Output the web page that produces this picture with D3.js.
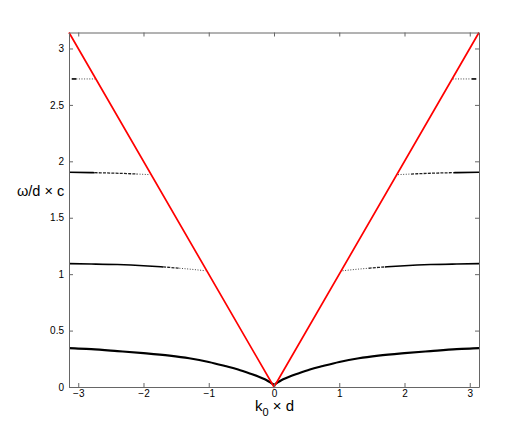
<!DOCTYPE html>
<html>
<head>
<meta charset="utf-8">
<script src="https://cdn.jsdelivr.net/npm/d3@7"></script>
<style>
body{margin:0;background:#fff;}
.axis text{font-family:"Liberation Sans",Arial,sans-serif;font-size:10px;fill:#000;}
.axis path,.axis line{stroke:#666;}
</style>
</head>
<body>
<svg id="chart"></svg>
<script>
var w=530;
var h=436;
var margin={left:69,right:51,top:32.5,bottom:49};
var PI=Math.PI;

// light line (red)
var lightK=[-PI,0,PI];
var lightW=[PI,0,PI];

// bands, positive-k half (mirrored for negative k)
var band1K=[0,0.07,0.14,0.25,0.37,0.55,0.75,1,1.3,1.6,2,2.4,2.8,3.05,PI];
var band1W=[0.02,0.045,0.068,0.095,0.12,0.155,0.186,0.222,0.255,0.278,0.3,0.318,0.335,0.343,0.345];
var band2K=[1.05,1.3,1.6,2,2.4,2.8,PI];
var band2W=[1.03,1.045,1.06,1.075,1.085,1.09,1.093];
var band3K=[1.9,2.2,2.5,2.8,PI];
var band3W=[1.882,1.89,1.896,1.9,1.903];
var band4K=[2.74,2.9,3.03,3.1];
var band4W=[2.73,2.73,2.73,2.73];
// where each band turns sparse: solid above the first k, dashed between, dotted below the second
var sparseK=[[0,0],[1.7,1.45],[2.75,2.1],[3.03,3.03]];

var xTicks=[-3,-2,-1,0,1,2,3];
var yTicks=[0,0.5,1,1.5,2,2.5,3];

var iw=w-margin.left-margin.right;
var ih=h-margin.top-margin.bottom;

var svg=d3.select("#chart")
          .attr("width",w)
          .attr("height",h);

var xScale=d3.scaleLinear()
             .domain([-PI,PI])
             .range([margin.left,margin.left+iw]);
var yScale=d3.scaleLinear()
             .domain([0,PI])
             .range([margin.top+ih,margin.top]);

var line=d3.line()
           .curve(d3.curveMonotoneX)
           .x(function(d){return xScale(d[0]);})
           .y(function(d){return yScale(d[1]);});

var bands=[[band1K,band1W],[band2K,band2W],[band3K,band3W],[band4K,band4W]];

// piece of a band between k0 and k1, on side s
function piece(b,k0,k1,s){
  var f=d3.scaleLinear().domain(b[0]).range(b[1]);
  var ks=[k0].concat(b[0].filter(function(k){return k>k0&&k<k1;}),[k1]);
  var p=ks.map(function(k){return [s*k,f(k)];});
  if(s<0)p.reverse();
  return p;
}

bands.forEach(function(b,i){
  var kMin=b[0][0],kMax=b[0][b[0].length-1];
  var c1=sparseK[i][0],c2=sparseK[i][1];
  [1,-1].forEach(function(s){
    if(c2>kMin){
      svg.append("path")
         .datum(piece(b,kMin,c2,s))
         .attr("d",line)
         .attr("fill","none")
         .attr("stroke","#444")
         .attr("stroke-width",1)
         .attr("stroke-dasharray","1,1.6");
    }
    if(c1>c2){
      svg.append("path")
         .datum(piece(b,c2,c1,s))
         .attr("d",line)
         .attr("fill","none")
         .attr("stroke","#222")
         .attr("stroke-width",1.3)
         .attr("stroke-dasharray","3,1.2");
    }
    svg.append("path")
       .datum(piece(b,Math.max(c1,kMin),kMax,s))
       .attr("d",line)
       .attr("fill","none")
       .attr("stroke","#000")
       .attr("stroke-width",i==0?2.2:1.6);
  });
});

svg.append("path")
   .datum(lightK.map(function(k,j){return [k,lightW[j]];}))
   .attr("d",d3.line().x(function(d){return xScale(d[0]);}).y(function(d){return yScale(d[1]);}))
   .attr("fill","none")
   .attr("stroke","#ff0000")
   .attr("stroke-width",1.7);

var xAxis=d3.axisBottom(xScale).tickValues(xTicks).tickSizeInner(-4).tickSizeOuter(0).tickPadding(3).tickFormat(d3.format("d"));
var yAxis=d3.axisLeft(yScale).tickValues(yTicks).tickSizeInner(-4).tickSizeOuter(0).tickPadding(5).tickFormat(d3.format(""));
svg.append("g")
   .classed("axis",true)
   .attr("transform","translate(0,"+(margin.top+ih)+")")
   .call(xAxis);
svg.append("g")
   .classed("axis",true)
   .attr("transform","translate(0,"+margin.top+")")
   .call(d3.axisTop(xScale).tickValues(xTicks).tickSizeInner(-4).tickSizeOuter(0).tickFormat(""));
svg.append("g")
   .classed("axis",true)
   .attr("transform","translate("+margin.left+",0)")
   .call(yAxis);
svg.append("g")
   .classed("axis",true)
   .attr("transform","translate("+(margin.left+iw)+",0)")
   .call(d3.axisRight(yScale).tickValues(yTicks).tickSizeInner(-4).tickSizeOuter(0).tickFormat(""));

var xl=svg.append("text")
   .attr("x",255)
   .attr("y",411)
   .style("font-family","Liberation Sans,Arial,sans-serif")
   .style("font-size","15px");
xl.append("tspan").text("k");
xl.append("tspan").attr("dy",5).style("font-size","11px").text("0");
xl.append("tspan").attr("dy",-5).text(" \u00d7 d");

svg.append("text")
   .attr("x",17)
   .attr("y",196)
   .style("font-family","Liberation Sans,Arial,sans-serif")
   .style("font-size","14.5px")
   .text("\u03c9/d \u00d7 c");
</script>
</body>
</html>
